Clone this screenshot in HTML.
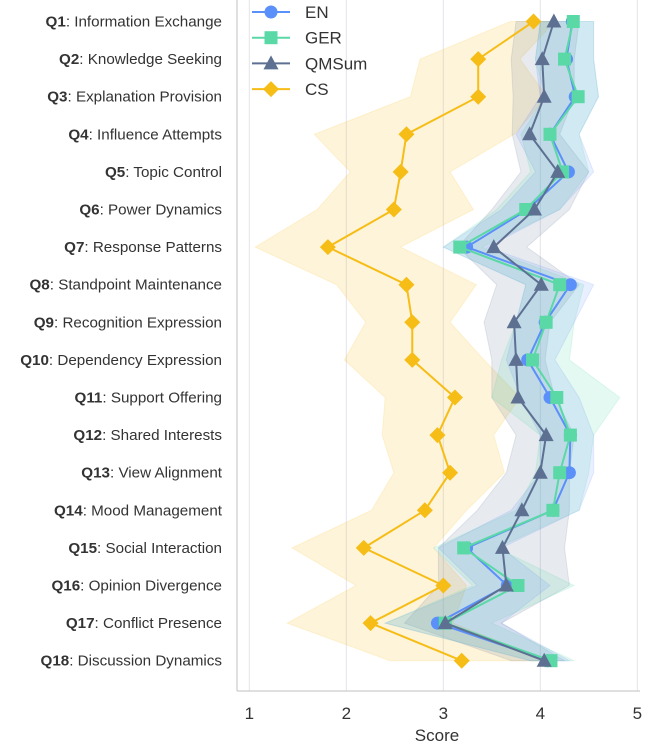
<!DOCTYPE html>
<html><head><meta charset="utf-8"><style>
html,body{margin:0;padding:0;background:#fff;}
svg{display:block;font-family:"Liberation Sans","DejaVu Sans",sans-serif;}
</style></head><body>
<svg id="chart" width="646" height="748"></svg>
<script>
const categories=["Information Exchange","Knowledge Seeking","Explanation Provision","Influence Attempts","Topic Control","Power Dynamics","Response Patterns","Standpoint Maintenance","Recognition Expression","Dependency Expression","Support Offering","Shared Interests","View Alignment","Mood Management","Social Interaction","Opinion Divergence","Conflict Presence","Discussion Dynamics"];
const xTicks=[1,2,3,4,5];
const enVals=[4.33,4.27,4.36,4.10,4.29,3.87,3.24,4.31,4.05,3.87,4.10,4.31,4.30,4.13,3.24,3.66,2.94,4.08];
const enLo=[4.0,3.95,4.0,3.75,3.95,3.6,3.0,3.85,3.75,3.65,3.8,4.0,4.0,3.7,2.95,3.35,2.4,3.9];
const enHi=[4.55,4.55,4.6,4.4,4.55,4.2,3.45,4.55,4.35,4.15,4.4,4.55,4.55,4.4,3.6,4.1,3.6,4.3];
const gerVals=[4.34,4.25,4.39,4.10,4.23,3.85,3.17,4.20,4.06,3.92,4.17,4.31,4.20,4.13,3.21,3.77,3.02,4.11];
const gerLo=[4.0,3.95,4.05,3.8,3.9,3.55,3.0,3.85,3.75,3.6,3.5,4.0,3.95,3.75,2.9,3.3,2.4,3.9];
const gerHi=[4.55,4.55,4.6,4.4,4.5,4.2,3.4,4.45,4.35,4.3,4.82,4.55,4.5,4.4,3.55,4.35,3.5,4.35];
const qmVals=[4.14,4.02,4.04,3.89,4.18,3.94,3.52,4.01,3.73,3.75,3.77,4.06,4.0,3.81,3.61,3.65,3.02,4.04];
const qmLo=[3.75,3.7,3.72,3.71,3.8,3.5,3.15,3.55,3.42,3.5,3.5,3.75,3.65,3.35,2.95,2.95,2.6,3.7];
const qmHi=[4.4,4.35,4.35,4.2,4.5,4.3,3.86,4.4,4.1,4.05,4.15,4.35,4.3,4.3,4.25,4.3,3.6,4.25];
const csVals=[3.93,3.36,3.36,2.62,2.56,2.49,1.81,2.62,2.68,2.68,3.12,2.94,3.07,2.81,2.18,3.0,2.25,3.19];
const csLo=[3.69,2.76,2.66,1.67,2.04,1.70,1.06,1.90,2.20,1.98,2.40,2.37,2.49,2.26,1.44,2.10,1.39,2.45];
const csHi=[4.15,3.79,4.07,3.73,3.07,3.31,2.56,3.34,3.07,3.42,3.79,3.52,3.63,3.24,2.90,3.24,3.10,4.07];

const NS="http://www.w3.org/2000/svg";
const svg=document.getElementById('chart');
const X=v=>249.3+(v-1)*97;
const Y=i=>21.5+i*37.6;
function mk(tag,attrs,parent){const e=document.createElementNS(NS,tag);for(const k in attrs)e.setAttribute(k,attrs[k]);(parent||svg).appendChild(e);return e;}

xTicks.forEach(t=>{
  const g=mk('line',{x1:X(t),x2:X(t),y1:0,y2:691,stroke:'#e3e3ea','stroke-width':1});
  
  
  const tl=mk('text',{x:X(t),y:719,'text-anchor':'middle','font-size':17,fill:'#333'});
  tl.textContent=t;
  
  
});
const sp=mk('line',{x1:237,x2:237,y1:0,y2:691,stroke:'#ccc','stroke-width':1.2});


const sb=mk('line',{x1:237,x2:640,y1:691,y2:691,stroke:'#ccc','stroke-width':1.2});


const xt=mk('text',{x:437,y:741,'text-anchor':'middle','font-size':17,fill:'#333'});
xt.textContent='Score';



categories.forEach((c,i)=>{
  const t=mk('text',{x:222,y:Y(i)+5,'text-anchor':'end','font-size':15.2,fill:'#333'});
  const b=mk('tspan',{'font-weight':'bold'},t);b.textContent='Q'+(i+1);
  const r=mk('tspan',{},t);r.textContent=': '+c;
  
  
});

const series=[
 {name:'cs',vals:csVals,lo:csLo,hi:csHi,color:'#f6bd16',op:0.16,marker:'diamond'},
 {name:'qmsum',vals:qmVals,lo:qmLo,hi:qmHi,color:'#5d7092',op:0.15,marker:'triangle'},
 {name:'ger',vals:gerVals,lo:gerLo,hi:gerHi,color:'#5ad8a6',op:0.16,marker:'square'},
 {name:'en',vals:enVals,lo:enLo,hi:enHi,color:'#5b8ff9',op:0.14,marker:'circle'}
];
function marker(type,x,y,color,parent){
  let e;
  if(type==='circle')e=mk('circle',{cx:x,cy:y,r:6.5,fill:color},parent);
  else if(type==='square')e=mk('rect',{x:x-6.5,y:y-6.5,width:13,height:13,fill:color},parent);
  else if(type==='triangle')e=mk('polygon',{points:`${x},${y-8} ${x-7.5},${y+6} ${x+7.5},${y+6}`,fill:color},parent);
  else e=mk('polygon',{points:`${x},${y-8} ${x+8},${y} ${x},${y+8} ${x-8},${y}`,fill:color},parent);
  return e;
}
series.forEach(s=>{
  const pts=s.hi.map((v,i)=>X(v)+','+Y(i)).concat(s.lo.map((v,i)=>X(v)+','+Y(i)).reverse());
  const b=mk('polygon',{points:pts.join(' '),fill:s.color,'fill-opacity':s.op,stroke:s.color,'stroke-opacity':0.15});
  
  
});
const order=[series[3],series[2],series[1],series[0]];
order.forEach(s=>{
  const l=mk('polyline',{points:s.vals.map((v,i)=>X(v)+','+Y(i)).join(' '),fill:'none',stroke:s.color,'stroke-width':2});
  
  
  s.vals.forEach((v,i)=>{
    const m=marker(s.marker,X(v),Y(i),s.color);
    
    
  });
});
const legendItems=[['EN','#5b8ff9','circle'],['GER','#5ad8a6','square'],['QMSum','#5d7092','triangle'],['CS','#f6bd16','diamond']];
legendItems.forEach((it,i)=>{
  const y=12+i*25.7;
  const g=mk('g',{});
  
  
  mk('line',{x1:252,x2:290,y1:y,y2:y,stroke:it[1],'stroke-width':2},g);
  marker(it[2],271,y,it[1],g);
  const t=mk('text',{x:305,y:y+6,'font-size':17,fill:'#333'},g);
  t.textContent=it[0];
});
</script>
</body></html>
